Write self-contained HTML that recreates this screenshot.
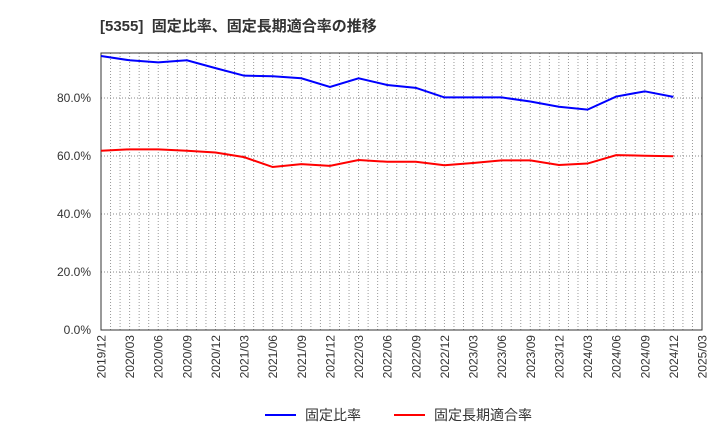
<!DOCTYPE html>
<html><head><meta charset="utf-8"><style>
body{margin:0;background:#fff;font-family:"Liberation Sans","Noto Sans CJK JP",sans-serif}
</style></head><body>
<svg id="c" width="720" height="440" xmlns="http://www.w3.org/2000/svg">
<text x="100" y="31" font-size="15" font-weight="bold" fill="#333" style="white-space:pre">[5355]  固定比率、固定長期適合率の推移</text>
<g id="grid"></g>
<g id="axes"></g>
<g id="lines"></g>
<g>
<line x1="265" y1="415" x2="296" y2="415" stroke="#0000ff" stroke-width="2"/>
<text x="305" y="420" font-size="14" fill="#333">固定比率</text>
<line x1="394" y1="415" x2="425" y2="415" stroke="#ff0000" stroke-width="2"/>
<text x="434" y="420" font-size="14" fill="#333">固定長期適合率</text>
</g>
</svg>
<script>
const categories=["2019/12","2020/03","2020/06","2020/09","2020/12","2021/03","2021/06","2021/09","2021/12","2022/03","2022/06","2022/09","2022/12","2023/03","2023/06","2023/09","2023/12","2024/03","2024/06","2024/09","2024/12","2025/03"];
const fixedRatio=[94.5,93,92.3,93,90.3,87.7,87.5,86.8,83.8,86.8,84.5,83.5,80.2,80.2,80.2,78.8,77,76,80.5,82.3,80.4];
const fixedLongRatio=[61.8,62.3,62.3,61.8,61.2,59.6,56.2,57.2,56.6,58.6,58,58,56.8,57.6,58.5,58.5,56.9,57.4,60.3,60.1,59.9];
const yTicks=[0,20,40,60,80];
const NS="http://www.w3.org/2000/svg";
const L=101,R=702,T=53,B=330;
const x=i=>L+(R-L)*i/(categories.length-1);
const y=v=>B-v*2.9;
function mk(tag,attrs,parent){const e=document.createElementNS(NS,tag);for(const k in attrs)e.setAttribute(k,attrs[k]);parent.appendChild(e);return e;}
const grid=document.getElementById('grid'),axes=document.getElementById('axes'),lines=document.getElementById('lines');
const months=(categories.length-1)*3;
for(let m=1;m<months;m++){const xx=L+(R-L)*m/months;
const g=mk('line',{x1:xx,x2:xx,y1:T,y2:B,stroke:'#999','stroke-dasharray':'1,2','stroke-width':1},grid);

}
yTicks.forEach(v=>{const yy=y(v);
if(v>0){const g=mk('line',{x1:L,x2:R,y1:yy,y2:yy,stroke:'#888','stroke-dasharray':'1,2'},grid);

}
const t=mk('text',{x:91,y:yy+4,'text-anchor':'end','font-size':12,fill:'#333'},axes);t.textContent=v.toFixed(1)+'%';

});
const f=mk('rect',{x:L,y:T,width:R-L,height:B-T,fill:'none',stroke:'#333'},axes);


categories.forEach((c,i)=>{const t=mk('text',{transform:`translate(${x(i)+4.5},${B+5}) rotate(-90)`,'text-anchor':'end','font-size':12,fill:'#333'},axes);t.textContent=c;

});
function line(d,col,name){const p=mk('polyline',{points:d.map((v,i)=>x(i)+','+y(v)).join(' '),fill:'none',stroke:col,'stroke-width':2},lines);

}
line(fixedLongRatio,'#ff0000','fixed-long-term-ratio-line');
line(fixedRatio,'#0000ff','fixed-ratio-line');
</script>
</body></html>
